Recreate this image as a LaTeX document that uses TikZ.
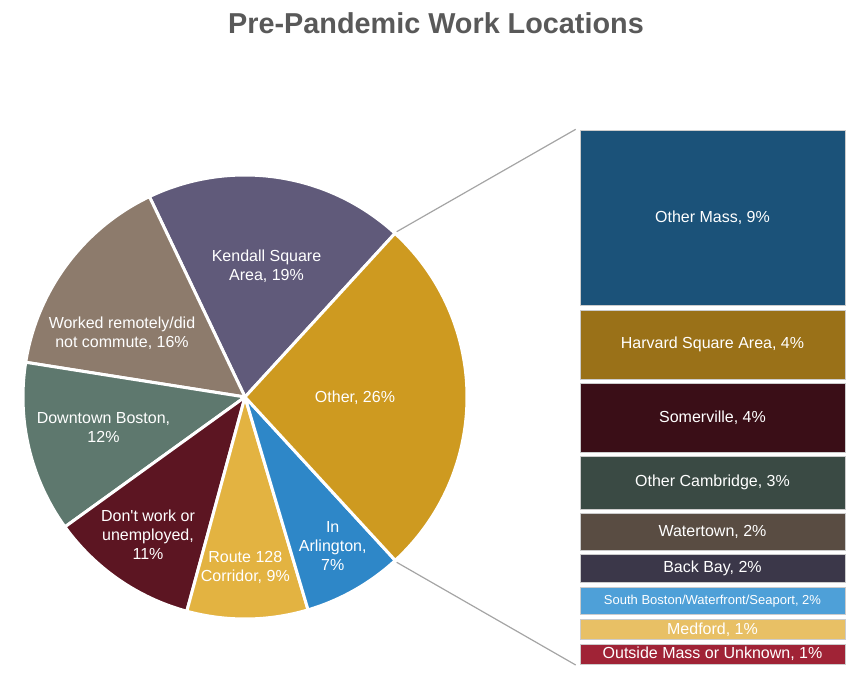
\documentclass[tikz,border=0pt]{standalone}
\usepackage{fontspec}
\setmainfont[Ligatures=TeXOff]{Liberation Sans}
\definecolor{cKendall}{RGB}{96,90,122}
\definecolor{cOther}{RGB}{206,154,32}
\definecolor{cArl}{RGB}{46,135,200}
\definecolor{cRoute}{RGB}{227,179,65}
\definecolor{cDont}{RGB}{92,21,34}
\definecolor{cDown}{RGB}{94,120,110}
\definecolor{cWork}{RGB}{141,123,108}
\definecolor{cMass}{RGB}{27,82,121}
\definecolor{cHarv}{RGB}{154,113,24}
\definecolor{cSom}{RGB}{58,14,23}
\definecolor{cCamb}{RGB}{58,74,68}
\definecolor{cWat}{RGB}{89,76,66}
\definecolor{cBack}{RGB}{59,55,73}
\definecolor{cSouth}{RGB}{78,160,216}
\definecolor{cMed}{RGB}{232,192,101}
\definecolor{cOut}{RGB}{160,35,54}
\definecolor{titlegray}{RGB}{89,89,89}
\definecolor{linegray}{RGB}{165,165,165}
\tikzset{
  slice/.style={draw=white, line width=3pt, line join=round},
  pielabel/.style={text=white, align=center, inner sep=0pt, font=\fontsize{16}{19}\selectfont},
  bar/.style={draw=white!80!black, line width=0.5pt, minimum width=265pt, inner sep=0pt, text=white, font=\fontsize{16}{19}\selectfont},
  connector/.style={draw=linegray, line width=1.2pt}
}
\newcommand{\pieslice}[3]{%
  \fill[#3] (245,276) -- ++(#1:222) arc[start angle=#1, end angle=#2, radius=222] -- cycle;
  \draw[slice] (245,276) -- ++(#1:222) arc[start angle=#1, end angle=#2, radius=222] -- cycle;
}
\begin{document}
\begin{tikzpicture}[x=1pt,y=1pt]
\useasboundingbox (0,0) rectangle (851,673);
% title
\node[text=titlegray, font=\bfseries\fontsize{28.8}{32}\selectfont] (title) at (436,650) {Pre-Pandemic Work Locations};
% pie
\pieslice{47.5}{115.5}{cKendall}
\pieslice{115.5}{171}{cWork}
\pieslice{171}{215.8}{cDown}
\pieslice{215.8}{254.8}{cDont}
\pieslice{254.8}{286.5}{cRoute}
\pieslice{286.5}{312.6}{cArl}
\pieslice{-47.4}{47.5}{cOther}
\node[pielabel] (lKendall) at (266.5,406.7) {Kendall Square\\Area, 19\%};
\node[pielabel] (lWork) at (122,340.2) {Worked remotely/did\\not commute, 16\%};
\node[pielabel] (lOther) at (355,275.7) {Other, 26\%};
\node[pielabel] (lDown) at (103.5,245) {Downtown Boston,\\12\%};
\node[pielabel] (lDont) at (148,138.3) {Don't work or\\unemployed,\\11\%};
\node[pielabel] (lRoute) at (245.3,105.2) {Route 128\\Corridor, 9\%};
\node[pielabel] (lArl) at (332.7,127.1) {In\\Arlington,\\7\%};
% bars
\node[bar, fill=cMass, minimum height=175pt] (bMass) at (712.5,455.5) {Other Mass, 9\%};
\node[bar, fill=cHarv, minimum height=69pt] (bHarv) at (712.5,328.5) {Harvard Square Area, 4\%};
\node[bar, fill=cSom, minimum height=69pt] (bSom) at (712.5,255.2) {Somerville, 4\%};
\node[bar, fill=cCamb, minimum height=52.3pt] (bCamb) at (712.5,190.15) {Other Cambridge, 3\%};
\node[bar, fill=cWat, minimum height=36.7pt] (bWat) at (712.5,141.35) {Watertown, 2\%};
\node[bar, fill=cBack, minimum height=28pt] (bBack) at (712.5,104.7) {Back Bay, 2\%};
\node[bar, fill=cSouth, minimum height=27pt, font=\fontsize{13}{15}\selectfont] (bSouth) at (712.5,72.2) {South Boston/Waterfront/Seaport, 2\%};
\node[bar, fill=cMed, minimum height=20pt] (bMed) at (712.5,43.7) {Medford, 1\%};
\node[bar, fill=cOut, minimum height=20pt] (bOut) at (712.5,19) {Outside Mass or Unknown, 1\%};
% connectors
\coordinate (pieTop) at (396.7,441.3);
\coordinate (pieBot) at (396.7,110.7);
\coordinate (barTop) at (575.7,543.7);
\coordinate (barBot) at (575.7,8);
\draw[connector] (pieTop) -- (barTop);
\draw[connector] (pieBot) -- (barBot);
\end{tikzpicture}
\end{document}
